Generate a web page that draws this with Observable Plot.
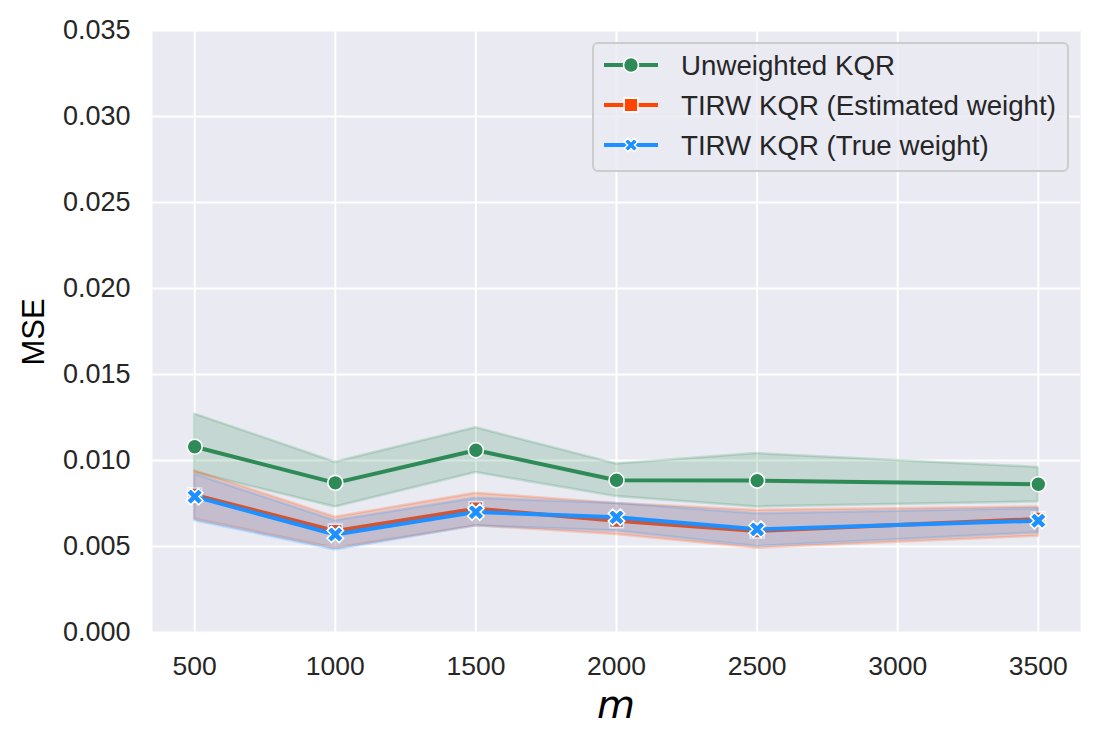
<!DOCTYPE html>
<html>
<head>
<meta charset="utf-8">
<script src="https://cdn.jsdelivr.net/npm/d3@7"></script>
<script src="https://cdn.jsdelivr.net/npm/@observablehq/plot@0.6"></script>
<style>
  html, body { margin: 0; padding: 0; background: #ffffff; }
  #chart { width: 1101px; height: 748px; }
</style>
</head>
<body>
<div id="chart"></div>
<script>
// ---- Data ----
const m = [500, 1000, 1500, 2000, 2500, 3500];
const xTicks = [500, 1000, 1500, 2000, 2500, 3000, 3500];
const yTicks = [0, 0.005, 0.01, 0.015, 0.02, 0.025, 0.03, 0.035];

const seriesNames = ["Unweighted KQR", "TIRW KQR (Estimated weight)", "TIRW KQR (True weight)"];

const unweighted   = [0.0108, 0.0087, 0.0106, 0.00885, 0.00883, 0.00862];
const unweightedLo = [0.0093, 0.0073, 0.0093, 0.0079, 0.0073, 0.0076];
const unweightedHi = [0.0127, 0.0099, 0.0119, 0.0098, 0.0104, 0.0096];

const estimated   = [0.0080, 0.0059, 0.0072, 0.0065, 0.0059, 0.0066];
const estimatedLo = [0.0066, 0.0049, 0.0062, 0.0057, 0.0049, 0.0056];
const estimatedHi = [0.0094, 0.0067, 0.0081, 0.0075, 0.0071, 0.0073];

const trueW   = [0.0079, 0.0057, 0.0070, 0.0067, 0.0060, 0.0065];
const trueWLo = [0.0065, 0.0048, 0.0062, 0.0059, 0.0050, 0.0058];
const trueWHi = [0.0092, 0.0065, 0.0078, 0.0075, 0.0069, 0.0072];

const colors = ["#2E8B57", "#FF4500", "#1E90FF"];

// ---- Build rows ----
function rows(vals, lo, hi, name) {
  return m.map((x, i) => ({ m: x, v: vals[i], lo: lo[i], hi: hi[i], s: name }));
}
const dU = rows(unweighted, unweightedLo, unweightedHi, seriesNames[0]);
const dE = rows(estimated, estimatedLo, estimatedHi, seriesNames[1]);
const dT = rows(trueW, trueWLo, trueWHi, seriesNames[2]);

// filled "X" marker (matplotlib style)
const symbolX = {
  draw(context, size) {
    const r = Math.sqrt(size / Math.PI);
    const w = r * 0.36;
    const pts = [[-w,-r],[w,-r],[w,-w],[r,-w],[r,w],[w,w],[w,r],[-w,r],[-w,w],[-r,w],[-r,-w],[-w,-w]];
    const c = Math.SQRT1_2;
    pts.forEach(([px, py], i) => {
      const qx = (px - py) * c, qy = (px + py) * c;
      if (i === 0) context.moveTo(qx, qy); else context.lineTo(qx, qy);
    });
    context.closePath();
  }
};

const font = "'Liberation Sans', Arial, sans-serif";

function bandAndLine(data, color, symbol, r) {
  return [
    Plot.areaY(data, { x: "m", y1: "lo", y2: "hi", fill: color, fillOpacity: 0.2, stroke: color, strokeOpacity: 0.2, strokeWidth: 2.5 }),
    Plot.line(data, { x: "m", y: "v", stroke: color, strokeWidth: 4 }),
    Plot.dot(data, { x: "m", y: "v", fill: color, stroke: "white", strokeWidth: 1.6, symbol: symbol, r: r })
  ];
}

const chart = Plot.plot({
  width: 1101,
  height: 748,
  marginLeft: 152,
  marginRight: 21,
  marginTop: 30,
  marginBottom: 116,
  style: { fontFamily: font, background: "white", overflow: "visible" },
  x: { domain: [350, 3650], ticks: xTicks, label: null },
  y: { domain: [0, 0.035], ticks: yTicks, label: null },
  marks: [
    Plot.frame({ fill: "#EAEAF2", stroke: null }),
    Plot.gridX(xTicks, { stroke: "white", strokeOpacity: 1, strokeWidth: 2 }),
    Plot.gridY(yTicks, { stroke: "white", strokeOpacity: 1, strokeWidth: 2 }),
    Plot.axisX(xTicks, { tickSize: 0, tickPadding: 24, fontSize: 26.5, fill: "#262626", label: null, tickFormat: d => String(d) }),
    Plot.axisY(yTicks, { tickSize: 0, tickPadding: 22, fontSize: 27, fill: "#262626", label: null, tickFormat: d3.format(".3f") }),
    ...bandAndLine(dU, colors[0], "circle", 7.5),
    ...bandAndLine(dE, colors[1], "square", 7.8),
    ...bandAndLine(dT, colors[2], symbolX, 8.5)
  ]
});

document.getElementById("chart").appendChild(chart);

// ---- Axis labels and legend ----
const svg = d3.select(chart);

svg.append("text")
  .attr("transform", "translate(33,332) rotate(-90)")
  .attr("text-anchor", "middle")
  .attr("dominant-baseline", "central")
  .style("font-family", font)
  .style("font-size", "31px")
  .style("fill", "#000")
  .text("MSE");

svg.append("text")
  .attr("x", 616)
  .attr("y", 718)
  .attr("text-anchor", "middle")
  .style("font-family", "'DejaVu Sans', sans-serif")
  .style("font-style", "italic")
  .style("font-size", "39px")
  .style("fill", "#000")
  .text("m");

const lg = svg.append("g");
lg.append("rect")
  .attr("x", 593).attr("y", 43).attr("width", 475).attr("height", 128)
  .attr("rx", 5)
  .attr("fill", "#EAEAF2").attr("fill-opacity", 0.8)
  .attr("stroke", "#CCCCCC").attr("stroke-width", 2);

const symbols = [d3.symbolCircle, d3.symbolSquare, symbolX];
const symSizes = [Math.PI * 7.5 * 7.5, Math.PI * 7.8 * 7.8, Math.PI * 7 * 7];
seriesNames.forEach((name, i) => {
  const y = 65 + i * 40;
  lg.append("line")
    .attr("x1", 604).attr("x2", 658).attr("y1", y).attr("y2", y)
    .attr("stroke", colors[i]).attr("stroke-width", 4);
  lg.append("path")
    .attr("transform", `translate(631,${y})`)
    .attr("d", d3.symbol(symbols[i], symSizes[i])())
    .attr("fill", colors[i]).attr("stroke", "white").attr("stroke-width", 1.6);
  lg.append("text")
    .attr("x", 681).attr("y", y)
    .attr("text-anchor", "start")
    .attr("dominant-baseline", "central")
    .style("font-family", font)
    .style("font-size", "27.7px")
    .style("fill", "#262626")
    .text(name);
});
</script>
</body>
</html>
